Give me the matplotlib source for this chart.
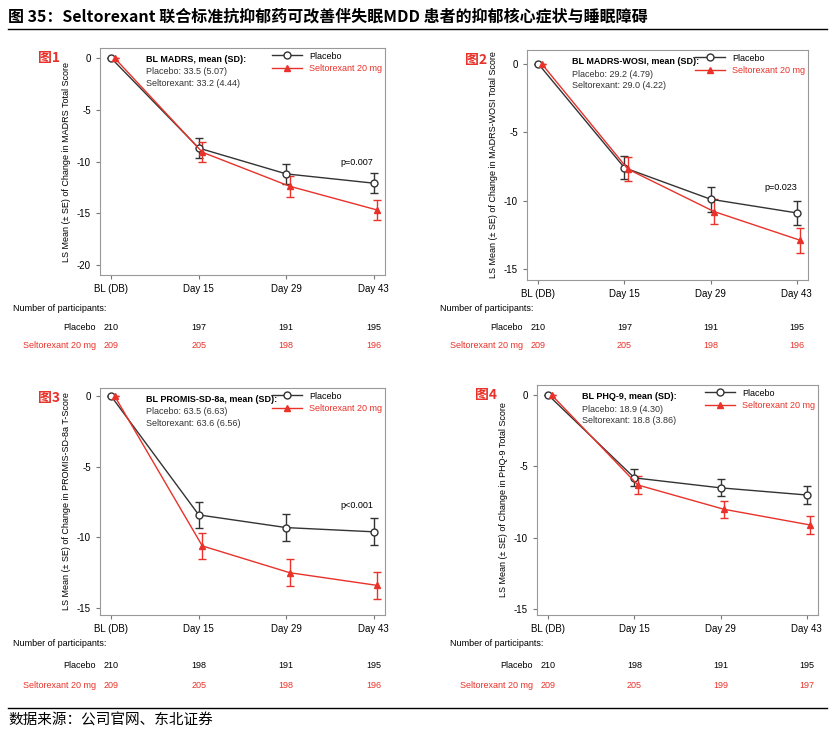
import matplotlib.pyplot as plt
from matplotlib.lines import Line2D

plt.rcParams['font.family'] = ['Liberation Sans', 'Noto Sans CJK SC', 'DejaVu Sans']

W, H = 835, 735
x_labels = ["BL (DB)", "Day 15", "Day 29", "Day 43"]
days = [0, 1, 2, 3]

placebo_1 = [0, -8.7, -11.2, -12.1]
selt_1 = [0, -9.1, -12.4, -14.7]
se_1 = [0, 0.95, 1.0, 1.0]
placebo_2 = [0, -7.6, -9.9, -10.9]
selt_2 = [0, -7.7, -10.8, -12.9]
se_2 = [0, 0.85, 0.9, 0.9]
placebo_3 = [0, -8.4, -9.3, -9.6]
selt_3 = [0, -10.6, -12.5, -13.4]
se_3 = [0, 0.9, 0.95, 0.95]
placebo_4 = [0, -5.8, -6.5, -7.0]
selt_4 = [0, -6.3, -8.0, -9.1]
se_4 = [0, 0.6, 0.6, 0.6]

n_placebo = [[210, 197, 191, 195], [210, 197, 191, 195], [210, 198, 191, 195], [210, 198, 191, 195]]
n_selt = [[209, 205, 198, 196], [209, 205, 198, 196], [209, 205, 198, 196], [209, 205, 199, 197]]

ylabels = ["LS Mean (± SE) of Change in MADRS Total Score",
           "LS Mean (± SE) of Change in MADRS-WOSI Total Score",
           "LS Mean (± SE) of Change in PROMIS-SD-8a T-Score",
           "LS Mean (± SE) of Change in PHQ-9 Total Score"]
bl_titles = ["BL MADRS, mean (SD):", "BL MADRS-WOSI, mean (SD):",
             "BL PROMIS-SD-8a, mean (SD):", "BL PHQ-9, mean (SD):"]
bl_placebo = ["Placebo: 33.5 (5.07)", "Placebo: 29.2 (4.79)", "Placebo: 63.5 (6.63)", "Placebo: 18.9 (4.30)"]
bl_selt = ["Seltorexant: 33.2 (4.44)", "Seltorexant: 29.0 (4.22)", "Seltorexant: 63.6 (6.56)", "Seltorexant: 18.8 (3.86)"]
pvals = ["p=0.007", "p=0.023", "p<0.001", None]
yticks = [[0, -5, -10, -15, -20], [0, -5, -10, -15], [0, -5, -10, -15], [0, -5, -10, -15]]
ylims = [(-21, 1), (-15.8, 1), (-15.5, 0.6), (-15.4, 0.7)]

# pixel boxes: left, top, right, bottom
boxes = [(100, 48, 385, 275), (527, 50, 808, 280), (100, 388, 385, 615), (537, 385, 818, 615)]
row_y = [(308, 327, 346), (308, 327, 346), (643, 666, 686), (643, 666, 686)]
tags = ["图1", "图2", "图3", "图4"]
placebo = [placebo_1, placebo_2, placebo_3, placebo_4]
selt = [selt_1, selt_2, selt_3, selt_4]
ses = [se_1, se_2, se_3, se_4]

RED = "#e8322a"
fig = plt.figure(figsize=(W / 100, H / 100), dpi=100)


def px(x, y):
    return x / W, 1 - y / H


fig.text(*px(8, 16), "图 35：Seltorexant 联合标准抗抑郁药可改善伴失眠MDD 患者的抑郁核心症状与睡眠障碍",
         fontsize=11.5, fontweight='bold', va='center', family=['Noto Sans CJK SC'])
fig.add_artist(Line2D([8 / W, 827 / W], [1 - 29 / H, 1 - 29 / H], color='k', lw=1))
fig.add_artist(Line2D([8 / W, 827 / W], [1 - 708 / H, 1 - 708 / H], color='k', lw=1))
fig.text(*px(8, 721), "数据来源：公司官网、东北证券", fontsize=10.5, va='center', family=['Noto Sans CJK SC'])

for i in range(4):
    l, t, r, b = boxes[i]
    ax = fig.add_axes([l / W, 1 - b / H, (r - l) / W, (b - t) / H])
    ax.errorbar(days, placebo[i], yerr=ses[i], color='#333333', lw=1, marker='o', ms=5,
                mfc='white', mec='#333333', capsize=3, elinewidth=1)
    xs = [d + 0.04 for d in days]
    ax.errorbar(xs, selt[i], yerr=ses[i], color=RED, lw=1, marker='^', ms=5,
                capsize=3, elinewidth=1)
    ax.set_xlim(-0.13, 3.13)
    ax.set_ylim(*ylims[i])
    ax.set_xticks(days)
    ax.set_xticklabels(x_labels, fontsize=7)
    ax.set_yticks(yticks[i])
    ax.set_yticklabels([str(v) for v in yticks[i]], fontsize=7)
    ax.set_ylabel(ylabels[i], fontsize=6.5)
    for s in ax.spines.values():
        s.set_color('#999999')
    ax.tick_params(length=3, color='#777777')
    ax.text(0.16, 0.97, bl_titles[i], transform=ax.transAxes, fontsize=6.5, fontweight='bold', va='top')
    ax.text(0.16, 0.915, bl_placebo[i], transform=ax.transAxes, fontsize=6.5, va='top', color='#333333')
    ax.text(0.16, 0.865, bl_selt[i], transform=ax.transAxes, fontsize=6.5, va='top', color='#333333')
    leg = [Line2D([], [], color='#333333', marker='o', mfc='white', lw=1, ms=5, label='Placebo'),
           Line2D([], [], color=RED, marker='^', lw=1, ms=5, label='Seltorexant 20 mg')]
    lg = ax.legend(handles=leg, loc='upper right', fontsize=6.5, frameon=False,
                   bbox_to_anchor=(1.02, 1.02), handlelength=3.3, labelspacing=0.4)
    lg.get_texts()[1].set_color(RED)
    if pvals[i]:
        ax.text(3, placebo[i][3] + ses[i][3] + 0.6, pvals[i], fontsize=6.5, ha='right', va='bottom')
    fig.text(*px(l - 62, t + 10), tags[i], color=RED, fontsize=10, fontweight='bold',
             va='center', family=['Noto Sans CJK SC'])

    # participants table
    y0, y1, y2 = row_y[i]
    fig.text(*px(l - 87, y0), "Number of participants:", fontsize=6.5, va='center')
    fig.text(*px(l - 4, y1), "Placebo", fontsize=6.5, va='center', ha='right')
    fig.text(*px(l - 4, y2), "Seltorexant 20 mg", fontsize=6.5, va='center', ha='right', color=RED)
    for d in days:
        xfig = fig.transFigure.inverted().transform(ax.transData.transform((d, 0)))[0]
        fig.text(xfig, 1 - y1 / H, str(n_placebo[i][d]), fontsize=6.5, va='center', ha='center')
        fig.text(xfig, 1 - y2 / H, str(n_selt[i][d]), fontsize=6.5, va='center', ha='center', color=RED)

fig.savefig("out.png", dpi=100)
